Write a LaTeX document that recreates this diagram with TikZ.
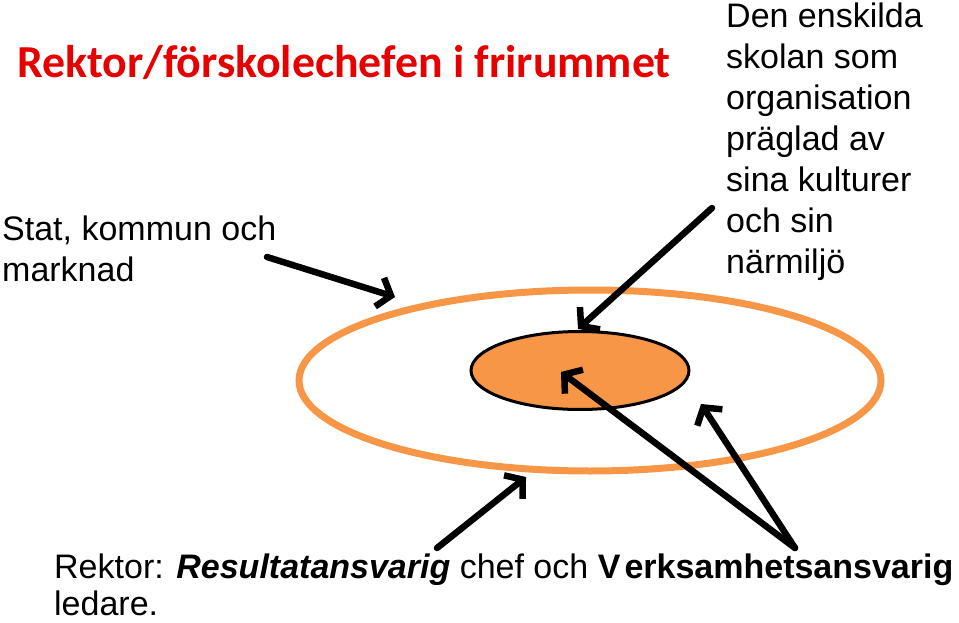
\documentclass[tikz,border=0pt]{standalone}
\usepackage{fontspec}
\setmainfont{Liberation Sans}
\newfontfamily\titlefont{Carlito}
\usetikzlibrary{arrows.meta,shapes.geometric}
\definecolor{ringorange}{RGB}{247,150,70}
\definecolor{titlered}{RGB}{230,0,0}

\begin{document}
\begin{tikzpicture}[x=1pt, y=-1pt,
    pil/.style={line width=6.5pt, line cap=round, line join=round,
      -{Straight Barb[length=12pt, width=30pt]}},
    txt/.style={anchor=base west, inner sep=0pt, align=left,
      font=\fontsize{34}{41}\selectfont}]
  \useasboundingbox (0,0) rectangle (959,623);

  % Title
  \node[anchor=base west, inner sep=0pt, text=titlered,
    font=\titlefont\bfseries\fontsize{45.8}{54}\selectfont] (rubrik) at (17,78)
    {Rektor/förskolechefen i frirummet};

  % The two ellipses
  \node[ellipse, draw=ringorange, line width=7pt, minimum width=582pt,
    minimum height=181pt, inner sep=0pt] (ring) at (590,380.5) {};
  \node[ellipse, draw=black, fill=ringorange, line width=3pt, minimum width=218pt,
    minimum height=78pt, inner sep=0pt] (karna) at (580,370.5) {};

  % Texts (anchored at the baseline of their last line)
  \node[txt] (stat) at (2,281) {Stat, kommun och\\marknad};
  \node[txt] (skola) at (726,273) {Den enskilda\\skolan som\\organisation\\präglad av\\sina kulturer\\och sin\\närmiljö};
  \node[txt] (rektor) at (54,615) {Rektor: \textbf{\textit{Resultatansvarig}} chef och \textbf{V\kern0.12em erksamhetsansvarig}\\[-4pt]ledare.};

  % End points of the arrows
  \coordinate (statA) at (267,257);
  \coordinate (statB) at (395,297);
  \coordinate (skolaA) at (712,208);
  \coordinate (skolaB) at (578,329);
  \coordinate (fotR) at (795,548);
  \coordinate (karnaB) at (561,372);
  \coordinate (ringB) at (701,404);
  \coordinate (fotL) at (437,548);
  \coordinate (ringL) at (526,477);

  % Arrows
  \draw[pil] (statA) -- (statB);
  \draw[pil] (skolaA) -- (skolaB);
  \draw[pil] (fotR) -- (karnaB);
  \draw[pil] (fotR) -- (ringB);
  \draw[pil] (fotL) -- (ringL);
\end{tikzpicture}
\end{document}
